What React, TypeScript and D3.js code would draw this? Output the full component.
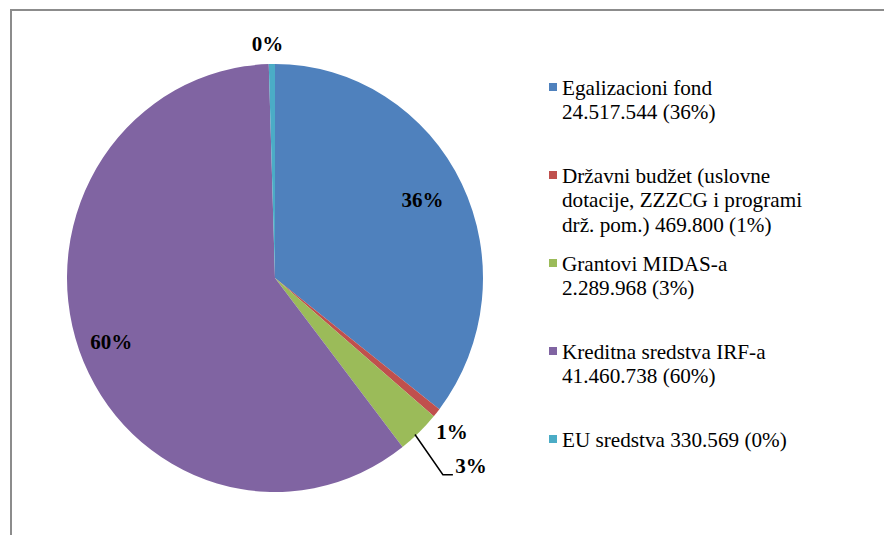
import React, { useEffect, useRef } from 'react'
import * as d3 from 'd3'

// data
const categories = [
  'Egalizacioni fond',
  'Državni budžet',
  'Grantovi MIDAS-a',
  'Kreditna sredstva IRF-a',
  'EU sredstva',
]
const values = [24517544, 469800, 2289968, 41460738, 330569]
const percentLabels = ['36%', '1%', '3%', '60%', '0%']
const legendLines = [
  ['Egalizacioni fond', '24.517.544 (36%)'],
  ['Državni budžet (uslovne', 'dotacije, ZZZCG i programi', 'drž. pom.) 469.800 (1%)'],
  ['Grantovi MIDAS-a', '2.289.968 (3%)'],
  ['Kreditna sredstva IRF-a', '41.460.738 (60%)'],
  ['EU sredstva 330.569 (0%)'],
]
const colors = ['#4F81BD', '#C0504D', '#9BBB59', '#8064A2', '#4BACC6']

// label placement: radius factor and small x nudge
const labelRadius = [0.833, 1.144, 1.215, 0.883, 1.093]
const labelDx = [-8, -8, 21, 9, -4]

const FONT = 'Liberation Serif, Tinos, Times New Roman, Times, serif'

const App = () => {
  const ref = useRef<SVGSVGElement | null>(null)

  useEffect(() => {
    if (!ref.current) return
    const svg = d3.select(ref.current)
    svg.selectAll('*').remove()

    const width = 884
    const height = 535

    // frame (only top and left edges are visible)
    svg.append('rect')
      .attr('x', 11)
      .attr('y', 10)
      .attr('width', width + 20)
      .attr('height', height + 20)
      .attr('fill', 'white')
      .attr('stroke', '#8c8c8c')
      .attr('stroke-width', 2)

    const cx = 275
    const cy = 278
    const ry = 214
    const sx = 208 / 214

    const data = categories.map((c, i) => ({ name: c, value: values[i], i }))
    const pie = d3.pie<any>().sort(null).value(d => d.value)
    const arcs = pie(data)
    const arc = d3.arc<any>().innerRadius(0).outerRadius(ry)

    const g = svg.append('g').attr('transform', `translate(${cx},${cy})`)

    g.append('g')
      .attr('transform', `scale(${sx},1)`)
      .selectAll('path.slice')
      .data(arcs)
      .enter()
      .append('path')
      .attr('class', 'slice')
      .attr('d', arc)
      .attr('fill', d => colors[d.data.i])

    const pointAt = (angle: number, rad: number) => [Math.sin(angle) * rad * sx, -Math.cos(angle) * rad]
    const labelPos = (d: any) => {
      const p = pointAt((d.startAngle + d.endAngle) / 2, ry * labelRadius[d.data.i])
      return [p[0] + labelDx[d.data.i], p[1]]
    }

    // leader line for small green slice
    const green = arcs[2]
    const gMid = (green.startAngle + green.endAngle) / 2
    const [ex, ey] = pointAt(gMid, ry)
    const [lx, ly] = labelPos(green)
    g.append('path')
      .attr('d', `M${ex - 4},${ey + 2}L${lx - 28},${ly + 9}L${lx - 18},${ly + 9}`)
      .attr('fill', 'none')
      .attr('stroke', 'black')
      .attr('stroke-width', 1.5)

    g.selectAll('text.pct')
      .data(arcs)
      .enter()
      .append('text')
      .attr('class', 'pct')
      .attr('x', d => labelPos(d)[0])
      .attr('y', d => labelPos(d)[1] + 7)
      .attr('text-anchor', 'middle')
      .style('font-family', FONT)
      .style('font-weight', 'bold')
      .style('font-size', '21px')
      .text(d => percentLabels[d.data.i])

    // legend
    const ly0 = d3.scalePoint<string>().domain(categories).range([95, 447])
    const lineH = 24.5
    const legend = svg.append('g')
    categories.forEach((c, i) => {
      const y = ly0(c) as number
      legend.append('rect')
        .attr('x', 549)
        .attr('y', y - 12)
        .attr('width', 8)
        .attr('height', 8)
        .attr('fill', colors[i])
      // source text is slightly wider than Liberation Serif
      const t = legend.append('text')
        .attr('transform', 'translate(562,0) scale(1.06,1)')
        .style('font-family', FONT)
        .style('font-size', '20px')
        .attr('fill', 'black')
      legendLines[i].forEach((line, j) => {
        t.append('tspan')
          .attr('x', 0)
          .attr('y', y + j * lineH)
          .text(line)
      })
    })
  }, [])

  return (
    <svg
      ref={ref}
      width={884}
      height={535}
      style={{ position: 'absolute', left: 0, top: 0 }}
    />
  )
}

export default App
